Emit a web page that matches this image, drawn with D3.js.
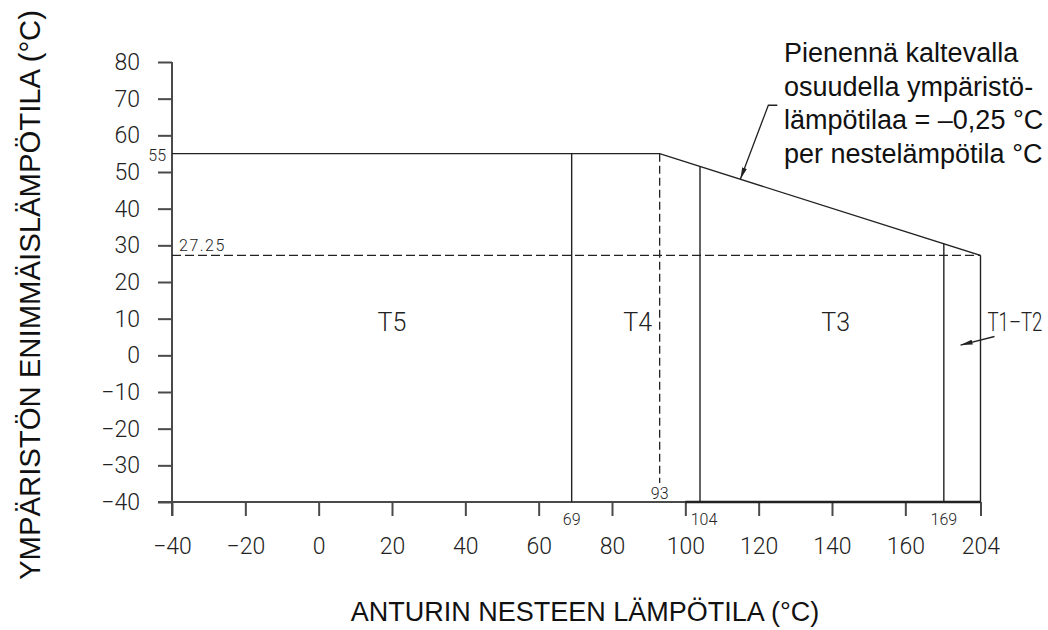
<!DOCTYPE html>
<html>
<head>
<meta charset="utf-8">
<script src="https://cdn.jsdelivr.net/npm/d3@7"></script>
<style>
  html, body { margin: 0; padding: 0; background: #fff; }
  svg { display: block; }
  .cad { font-family: "Roboto", "Liberation Sans", sans-serif; font-weight: 300; fill: #222; }
  .sans { font-family: "Liberation Sans", Arial, sans-serif; fill: #111; }
</style>
</head>
<body>
<svg id="chart" width="1048" height="630"></svg>
<script>
// Fluid temperature ticks (the last one is drawn on a compressed segment)
const xTicks = [-40, -20, 0, 20, 40, 60, 80, 100, 120, 140, 160, 204];
// Ambient temperature ticks
const yTicks = [80, 70, 60, 50, 40, 30, 20, 10, 0, -10, -20, -30, -40];
// Maximum ambient temperature limit: flat, then derated by 0.25 °C per °C
const limitCurve = [[-40, 55], [93, 55], [204, 27.25]];
// Temperature class boundaries (solid separators)
const classBounds = [69, 104, 169, 204];
const boundLabels = ["69", "104", "169"];
// Start of derating (dashed separator)
const derateStart = 93;
// Ambient temperature at the end of the derated range
const derateEnd = 27.25;
// Temperature classes and where each label sits (fluid °C, ambient °C)
const classNames = ["T5", "T4", "T3"];
const classLabelAt = [20, 87, 141];
const classLabelLevel = 6.5;
// The T1–T2 class is pointed to with an arrow ending here
const t12Arrow = [185, 2.8];
// Note on the sloped part, with its leader pointing at this fluid temperature
const noteLines = ["Pienennä kaltevalla", "osuudella ympäristö-", "lämpötilaa = \u20130,25 °C", "per nestelämpötila °C"];
const noteAt = 115;

const svg = d3.select("#chart");

// Plot geometry
const plotLeft = 172, unit = 73.333 / 20;
const plotTop = 62;
const yMin = -40, yMax = 80;

// Linear up to 160 °C, then a compressed segment up to 204 °C
const x = d3.scaleLinear()
  .domain([-40, 160, 169, 204])
  .range([plotLeft, plotLeft + 200 * unit, plotLeft + 210.5 * unit, plotLeft + 220.5 * unit]);
const y = d3.scaleLinear()
  .domain([yMax, yMin])
  .range([plotTop, plotTop + (yMax - yMin) * unit]);

const ink = "#222";
const axisInk = "#4a4a4a";

// Pixel height of the limit curve at a fluid temperature
const curvePts = limitCurve.map(d => [x(d[0]), y(d[1])]);
function curveY(t) {
  const px = x(t);
  for (let i = 1; i < curvePts.length; i++) {
    const a = curvePts[i - 1], b = curvePts[i];
    if (px <= b[0]) return a[1] + (b[1] - a[1]) * (px - a[0]) / (b[0] - a[0]);
  }
  return curvePts[curvePts.length - 1][1];
}

const fmt = d => d < 0 ? "\u2212" + Math.abs(d) : d;

// Axes
const xAxis = d3.axisBottom(x).tickValues(xTicks).tickSize(14).tickPadding(22).tickFormat(fmt);
const gx = svg.append("g").attr("transform", `translate(0,${y(yMin)})`).call(xAxis);
gx.select(".domain").attr("d", `M${x(-40) - 14},0H${x(204)}`);

const yAxis = d3.axisLeft(y).tickValues(yTicks).tickSize(14).tickPadding(18).tickFormat(fmt);
const gy = svg.append("g").attr("transform", `translate(${x(-40)},0)`).call(yAxis);
gy.select(".domain").attr("d", `M0,${y(yMax)}V${y(yMin) + 14}`);

[gx, gy].forEach(g => {
  g.selectAll(".domain, .tick line").attr("stroke", axisInk).attr("stroke-width", 2);
  g.selectAll(".tick text").attr("class", "cad").style("font-size", "23px").attr("fill", "#222");
});
gx.selectAll(".tick text").attr("dy", "0.71em");

// Right part of the base line is drawn heavier
svg.append("line")
  .attr("x1", x(100)).attr("x2", x(204))
  .attr("y1", y(yMin)).attr("y2", y(yMin))
  .attr("stroke", ink).attr("stroke-width", 2.3);

// Limit curve
svg.append("path")
  .datum(limitCurve)
  .attr("d", d3.line().x(d => x(d[0])).y(d => y(d[1])))
  .attr("fill", "none").attr("stroke", ink).attr("stroke-width", 1.4);

// Class separators from the x axis up to the limit curve
svg.selectAll(".bound").data(classBounds).join("line")
  .attr("class", "bound")
  .attr("x1", d => x(d)).attr("x2", d => x(d))
  .attr("y1", y(yMin)).attr("y2", d => curveY(d))
  .attr("stroke", ink).attr("stroke-width", 1.4);

// Derating start (dashed)
svg.append("line")
  .attr("x1", x(derateStart)).attr("x2", x(derateStart))
  .attr("y1", curveY(derateStart)).attr("y2", y(yMin) - 19)
  .attr("stroke", ink).attr("stroke-width", 1.3).attr("stroke-dasharray", "8,4");

// Derated ambient level (dashed)
svg.append("line")
  .attr("x1", x(-40)).attr("x2", x(204))
  .attr("y1", y(derateEnd)).attr("y2", y(derateEnd))
  .attr("stroke", ink).attr("stroke-width", 1.3).attr("stroke-dasharray", "9,4");

// Small value labels
const small = 16;
svg.append("text").attr("class", "cad").style("font-size", small + "px")
  .attr("x", x(-40) - 6).attr("y", y(55) + 7).attr("text-anchor", "end").text("55");
svg.append("text").attr("class", "cad").style("font-size", small + "px")
  .style("letter-spacing", "1.5px")
  .attr("x", x(-40) + 7).attr("y", y(derateEnd) - 4).text(String(derateEnd));
svg.append("text").attr("class", "cad").style("font-size", small + "px")
  .attr("x", x(derateStart)).attr("y", y(yMin) - 3).attr("text-anchor", "middle").text(String(derateStart));
svg.selectAll(".blab").data(boundLabels).join("text")
  .attr("class", "cad blab").style("font-size", small + "px")
  .attr("x", (d, i) => x(classBounds[i]) + (i === 1 ? 4 : 0))
  .attr("y", y(yMin) + 23)
  .attr("text-anchor", "middle")
  .text(d => d);

// Class labels
svg.selectAll(".cls").data(classNames).join("text")
  .attr("class", "cad cls").style("font-size", "25px")
  .attr("x", (d, i) => x(classLabelAt[i])).attr("y", y(classLabelLevel))
  .attr("text-anchor", "middle").text(d => d);

// Arrowhead marker
svg.append("defs").append("marker")
  .attr("id", "head").attr("viewBox", "0 0 12 6")
  .attr("refX", 12).attr("refY", 3)
  .attr("markerWidth", 12).attr("markerHeight", 5)
  .attr("markerUnits", "userSpaceOnUse").attr("orient", "auto")
  .attr("preserveAspectRatio", "none")
  .append("path").attr("d", "M0,0L12,3L0,6Z").attr("fill", ink);

// T1–T2 label, squeezed horizontally to fit beside the last boundary
const t12 = svg.append("text").attr("class", "cad").style("font-size", "25px")
  .text("T1\u2013T2");
const t12Width = t12.node().getComputedTextLength();
t12.attr("transform",
  `translate(${x(204) + 7},${y(classLabelLevel)}) scale(${Math.min(1, 55 / t12Width)},1)`);
svg.append("line")
  .attr("x1", x(204) + 14).attr("y1", y(classLabelLevel) + 5)
  .attr("x2", x(t12Arrow[0])).attr("y2", y(t12Arrow[1]))
  .attr("stroke", ink).attr("stroke-width", 1.4).attr("marker-end", "url(#head)");

// Note with a leader onto the sloped limit
const tipX = x(noteAt), tipY = curveY(noteAt);
const elbowX = tipX + 28, elbowY = tipY - 74;
svg.append("path")
  .attr("d", `M${elbowX + 9},${elbowY}H${elbowX}L${tipX},${tipY}`)
  .attr("fill", "none").attr("stroke", ink).attr("stroke-width", 1.3)
  .attr("marker-end", "url(#head)");
const note = svg.append("text").attr("class", "sans").style("font-size", "27px");
note.selectAll("tspan").data(noteLines).join("tspan")
  .attr("x", 784).attr("y", (d, i) => 62 + i * 33.5).text(d => d);

// Axis titles
svg.append("text").attr("class", "sans").style("font-size", "27px")
  .attr("x", 585).attr("y", 621).attr("text-anchor", "middle")
  .text("ANTURIN NESTEEN LÄMPÖTILA (°C)");
svg.append("text").attr("class", "sans").style("font-size", "29.3px")
  .attr("transform", "translate(40,295) rotate(-90)").attr("text-anchor", "middle")
  .text("YMPÄRISTÖN ENIMMÄISLÄMPÖTILA (°C)");
</script>
</body>
</html>
